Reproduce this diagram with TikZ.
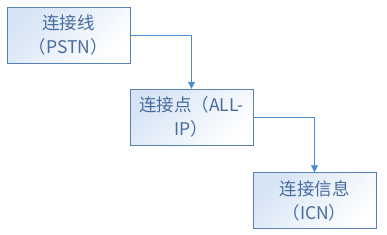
\documentclass[tikz,border=0pt]{standalone}
\usepackage{fontspec}
\setmainfont{Noto Sans CJK SC}
\usetikzlibrary{arrows.meta, positioning}
\definecolor{boxborder}{RGB}{88, 128, 178}
\definecolor{boxtext}{RGB}{72, 108, 158}
\definecolor{boxfill}{RGB}{214, 228, 245}
\definecolor{linkblue}{RGB}{74, 140, 210}

\begin{document}
\begin{tikzpicture}[
    x=1bp, y=-1bp,
    box/.style={rectangle, draw=boxborder, top color=boxfill, bottom color=white,
                shading angle=45, minimum width=123bp, minimum height=56bp,
                inner sep=2bp, align=center, text=boxtext,
                font=\fontsize{17.5bp}{24bp}\selectfont},
    arrow/.style={-{Triangle[length=7bp, width=7bp]}, linkblue, line width=0.8bp}
]
    \useasboundingbox (0,0) rectangle (387,235);
    % Boxes
    \node[box] (pstn) at (68.5,35) {连接线\\（PSTN）};
    \node[box] (allip) at (191.5,117) {连接点（ALL-\\IP）};
    \node[box] (icn) at (314.5,200.5) {连接信息\\（ICN）};

    % Arrows
    \draw[arrow] (pstn.east) -| (allip.north);
    \draw[arrow] (allip.east) -| (icn.north);
\end{tikzpicture}
\end{document}
